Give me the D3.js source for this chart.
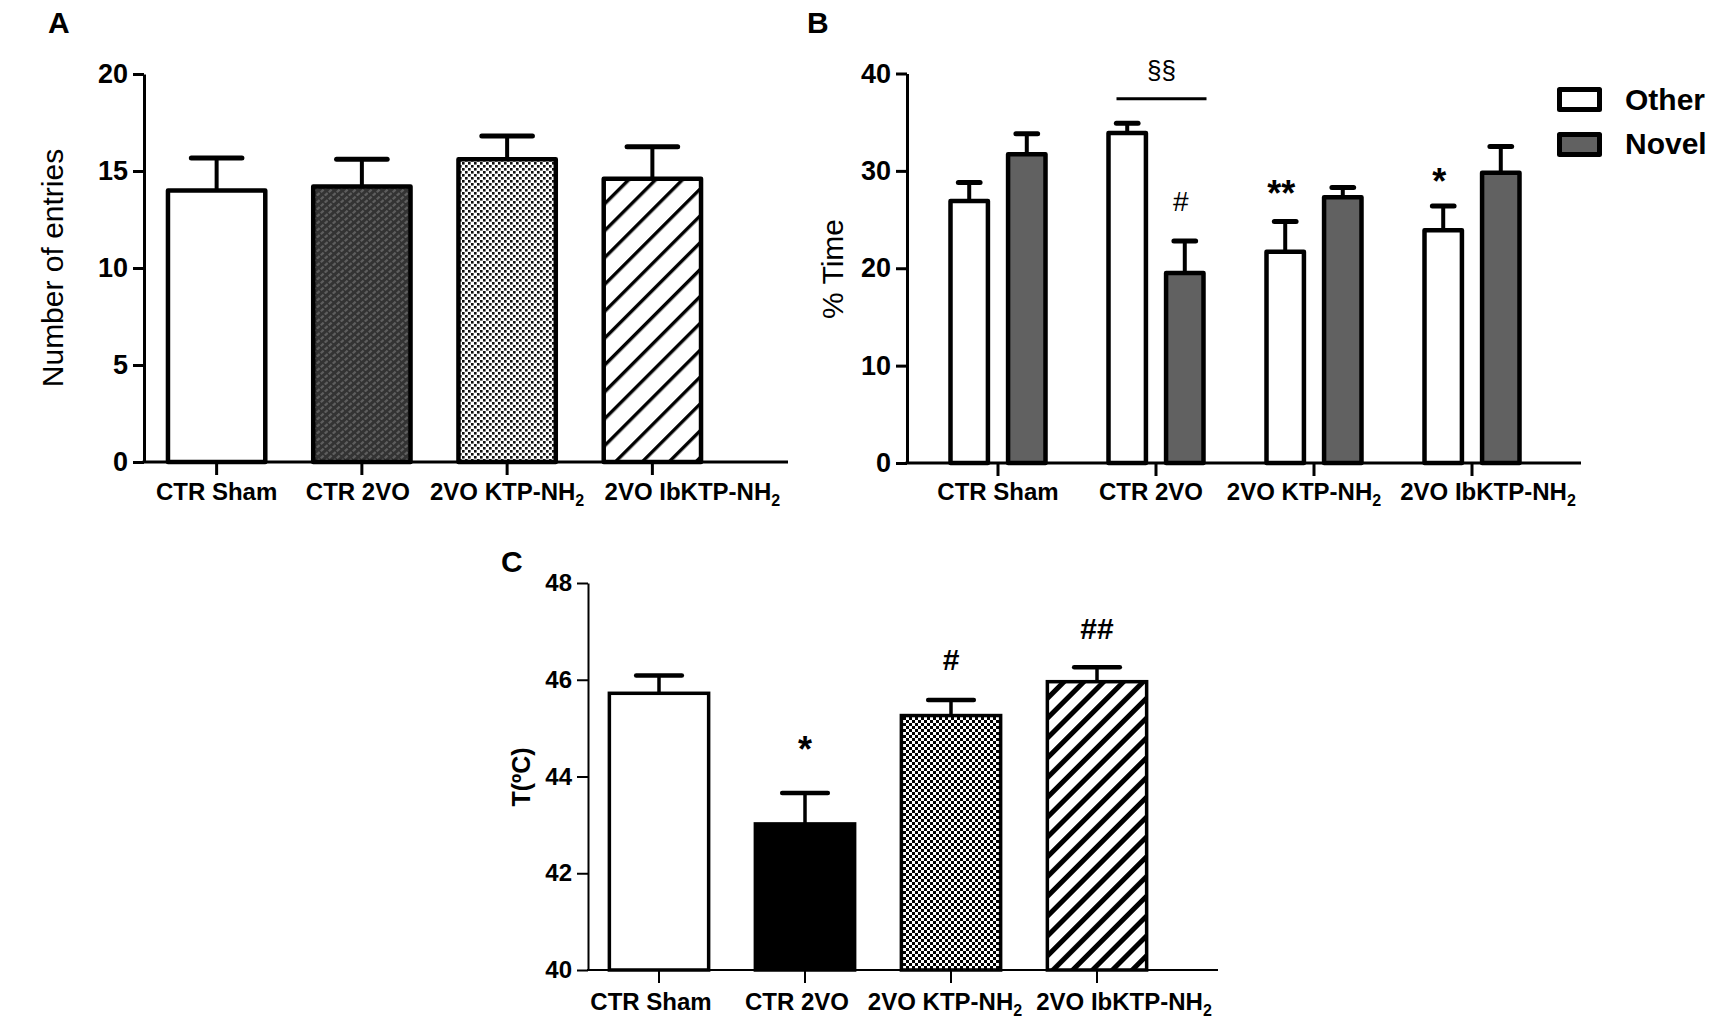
<!DOCTYPE html>
<html>
<head>
<meta charset="utf-8">
<script src="https://cdn.jsdelivr.net/npm/d3@7"></script>
<style>
  body { margin: 0; background: #fff; }
  text { font-family: "Liberation Sans", Arial, sans-serif; fill: #000; }
</style>
</head>
<body>
<svg id="fig" width="1720" height="1024"></svg>
<script>
// ---- data ----
var groups = ['CTR Sham', 'CTR 2VO', '2VO KTP-NH2', '2VO IbKTP-NH2'];

// A: number of entries
var entriesMean = [14.0, 14.2, 15.6, 14.6];
var entriesSem  = [1.67, 1.4, 1.2, 1.65];
var entriesTicks = [0, 5, 10, 15, 20];

// B: % time on each object
var objects = ['Other', 'Novel'];
var otherTime = [26.9, 33.9, 21.7, 23.9];
var otherSem  = [1.9, 1.0, 3.1, 2.5];
var novelTime = [31.7, 19.5, 27.3, 29.8];
var novelSem  = [2.1, 3.3, 1.0, 2.7];
var timeTicks = [0, 10, 20, 30, 40];
var marksB = [
  {label: '#',  group: 'CTR 2VO',       object: 'Novel', at: 25.9},
  {label: '**', group: '2VO KTP-NH2',   object: 'Other', at: 26.4},
  {label: '*',  group: '2VO IbKTP-NH2', object: 'Other', at: 27.6}
];
var bracketB = {label: '§§', group: 'CTR 2VO', at: 37.4, textAt: 39.4};

// C: temperature
var tempMean = [45.72, 43.02, 45.26, 45.96];
var tempSem  = [0.37, 0.64, 0.32, 0.30];
var tempTicks = [40, 42, 44, 46, 48];
var marksC = [
  {label: '*',  group: 'CTR 2VO',       at: 44.3},
  {label: '#',  group: '2VO KTP-NH2',   at: 46.2},
  {label: '##', group: '2VO IbKTP-NH2', at: 46.85}
];

var svg = d3.select('#fig');
var defs = svg.append('defs');

// ---- fill patterns ----
function pattern(id, w, h, rot) {
  var p = defs.append('pattern').attr('id', id)
    .attr('patternUnits', 'userSpaceOnUse')
    .attr('width', w).attr('height', h);
  if (rot) p.attr('patternTransform', 'rotate(' + rot + ')');
  return p;
}

var weave = pattern('weave', 8, 7);
weave.append('rect').attr('width', 8).attr('height', 7).attr('fill', '#333');
weave.append('path').attr('d', 'M0.8,3.2L3.6,0.6M4.8,6.6L7.6,4')
  .attr('stroke', '#5e5e5e').attr('stroke-width', 2.2).attr('stroke-linecap', 'butt');

var checkA = pattern('checkA', 6, 6);
checkA.append('rect').attr('width', 6).attr('height', 6).attr('fill', '#fff');
checkA.append('rect').attr('width', 2.6).attr('height', 2.6).attr('fill', '#111');
checkA.append('rect').attr('x', 3).attr('y', 3).attr('width', 2.6).attr('height', 2.6).attr('fill', '#111');

var checkC = pattern('checkC', 6, 6);
checkC.append('rect').attr('width', 6).attr('height', 6).attr('fill', '#fff');
checkC.append('rect').attr('width', 3).attr('height', 3).attr('fill', '#000');
checkC.append('rect').attr('x', 3).attr('y', 3).attr('width', 3).attr('height', 3).attr('fill', '#000');

var stripeA = pattern('stripeA', 19, 19, 45);
stripeA.append('rect').attr('width', 19).attr('height', 19).attr('fill', '#fff');
stripeA.append('rect').attr('width', 3.4).attr('height', 19).attr('fill', '#000');

var stripeC = pattern('stripeC', 14, 14, 45);
stripeC.append('rect').attr('width', 14).attr('height', 14).attr('fill', '#fff');
stripeC.append('rect').attr('width', 5).attr('height', 14).attr('fill', '#000');

// ---- helpers ----
function addLabel(sel, name) {
  var m = name.match(/^(.*NH)2$/);
  if (m) {
    sel.text(m[1]);
    sel.append('tspan').attr('font-size', 16).attr('dy', 6).text('2');
  } else {
    sel.text(name);
  }
}

function drawYAxis(g, y, ticks, x0, fontSize, lw) {
  var ax = g.append('g')
    .attr('transform', 'translate(' + x0 + ',0)')
    .call(d3.axisLeft(y).tickValues(ticks).tickSize(11).tickPadding(5).tickSizeOuter(0));
  ax.attr('font-family', null).attr('font-size', null);
  ax.select('.domain').attr('stroke', '#000').attr('stroke-width', lw);
  ax.selectAll('.tick line').attr('stroke', '#000').attr('stroke-width', lw);
  ax.selectAll('.tick text').attr('font-size', fontSize).attr('font-weight', 'bold');
}

function drawXAxis(g, x, y0, x1, x2, lw, labelY, nudge) {
  g.append('line')
    .attr('x1', x1 - lw / 2).attr('x2', x2)
    .attr('y1', y0).attr('y2', y0)
    .attr('stroke', '#000').attr('stroke-width', lw);
  var ax = g.append('g')
    .attr('transform', 'translate(0,' + y0 + ')')
    .call(d3.axisBottom(x).tickSize(13).tickFormat('').tickSizeOuter(0));
  ax.select('.domain').remove();
  ax.selectAll('.tick line').attr('stroke', '#000').attr('stroke-width', lw);
  g.selectAll('text.xlab').data(groups).join('text')
    .attr('class', 'xlab')
    .attr('x', function (d, i) { return x(d) + x.bandwidth() / 2 + nudge[i]; })
    .attr('y', labelY)
    .attr('text-anchor', 'middle')
    .attr('font-size', 24)
    .attr('font-weight', 'bold')
    .each(function (d) { addLabel(d3.select(this), d); });
}

function errBar(g, cx, yTop, yErr, capW, lw) {
  g.append('line')
    .attr('x1', cx).attr('x2', cx).attr('y1', yTop).attr('y2', yErr)
    .attr('stroke', '#000').attr('stroke-width', lw);
  g.append('line')
    .attr('x1', cx - capW / 2).attr('x2', cx + capW / 2).attr('y1', yErr).attr('y2', yErr)
    .attr('stroke', '#000').attr('stroke-width', lw + 1).attr('stroke-linecap', 'round');
}

function yTitle(x, y, txt, size, weight) {
  svg.append('text')
    .attr('transform', 'translate(' + x + ',' + y + ') rotate(-90)')
    .attr('text-anchor', 'middle')
    .attr('font-size', size)
    .attr('font-weight', weight)
    .text(txt);
}

function panelLetter(x, y, txt) {
  svg.append('text').attr('x', x).attr('y', y)
    .attr('font-size', 30).attr('font-weight', 'bold').text(txt);
}

function isStar(label) { return label.indexOf('*') >= 0; }

// ---- panel A ----
(function () {
  var g = svg.append('g');
  var y = d3.scaleLinear().domain([0, 20]).range([462, 74]);
  var x = d3.scaleBand().domain(groups).range([144, 725]).paddingInner(0.33).paddingOuter(0.165);
  var fills = ['#fff', 'url(#weave)', 'url(#checkA)', 'url(#stripeA)'];
  var bw = x.bandwidth();

  groups.forEach(function (d, i) {
    errBar(g, x(d) + bw / 2, y(entriesMean[i]), y(entriesMean[i] + entriesSem[i]), bw * 0.52, 4);
  });
  g.selectAll('rect.bar').data(groups).join('rect')
    .attr('class', 'bar')
    .attr('x', function (d) { return x(d); })
    .attr('y', function (d, i) { return y(entriesMean[i]); })
    .attr('width', bw)
    .attr('height', function (d, i) { return y(0) - y(entriesMean[i]); })
    .attr('fill', function (d, i) { return fills[i]; })
    .attr('stroke', '#000').attr('stroke-width', 4.5).attr('stroke-linejoin', 'round');

  drawYAxis(g, y, entriesTicks, 144, 27, 3);
  drawXAxis(g, x, 462, 144, 788, 3, 500, [0, -4, 0, 40]);
  yTitle(63, 268, 'Number of entries', 30, 'normal');
  panelLetter(48, 33, 'A');
})();

// ---- panel B ----
(function () {
  var g = svg.append('g');
  var y = d3.scaleLinear().domain([0, 40]).range([463, 73.5]);
  var x0 = d3.scaleBand().domain(groups).range([919, 1551]);
  var x1 = d3.scaleBand().domain(objects).range([31.5, 126.5]).paddingInner(0.35);
  var bw = x1.bandwidth();
  var vals = {Other: otherTime, Novel: novelTime};
  var sems = {Other: otherSem, Novel: novelSem};
  var fills = {Other: '#fff', Novel: '#616161'};

  var rows = [];
  groups.forEach(function (gname, i) {
    objects.forEach(function (o) {
      rows.push({group: gname, object: o, v: vals[o][i], s: sems[o][i]});
    });
  });

  rows.forEach(function (r) {
    var cx = x0(r.group) + x1(r.object) + bw / 2;
    errBar(g, cx, y(r.v), y(r.v + r.s), bw * 0.58, 4);
  });
  g.selectAll('rect.bar').data(rows).join('rect')
    .attr('class', 'bar')
    .attr('x', function (r) { return x0(r.group) + x1(r.object); })
    .attr('y', function (r) { return y(r.v); })
    .attr('width', bw)
    .attr('height', function (r) { return y(0) - y(r.v); })
    .attr('fill', function (r) { return fills[r.object]; })
    .attr('stroke', '#000').attr('stroke-width', 4.5).attr('stroke-linejoin', 'round');

  drawYAxis(g, y, timeTicks, 907, 27, 3);
  drawXAxis(g, x0, 463, 907, 1581, 3, 500, [0, -5, -10, 16]);

  // significance marks
  marksB.forEach(function (m) {
    g.append('text')
      .attr('x', x0(m.group) + x1(m.object) + bw / 2 - 4)
      .attr('y', y(m.at))
      .attr('text-anchor', 'middle')
      .attr('font-size', isStar(m.label) ? 36 : 28)
      .attr('font-weight', isStar(m.label) ? 'bold' : 'normal')
      .text(m.label);
  });
  var bx1 = x0(bracketB.group) + x1('Other') + 8;
  var bx2 = x0(bracketB.group) + x1('Novel') + bw + 3;
  g.append('line')
    .attr('x1', bx1).attr('x2', bx2)
    .attr('y1', y(bracketB.at)).attr('y2', y(bracketB.at))
    .attr('stroke', '#000').attr('stroke-width', 3);
  g.append('text')
    .attr('x', (bx1 + bx2) / 2).attr('y', y(bracketB.textAt))
    .attr('text-anchor', 'middle').attr('font-size', 26)
    .text(bracketB.label);

  // legend
  var lg = g.append('g');
  objects.forEach(function (o, i) {
    lg.append('rect')
      .attr('x', 1559.5).attr('y', 89.5 + i * 45)
      .attr('width', 40).attr('height', 20)
      .attr('fill', fills[o]).attr('stroke', '#000').attr('stroke-width', 5)
      .attr('stroke-linejoin', 'round');
    lg.append('text')
      .attr('x', 1625).attr('y', 110 + i * 44)
      .attr('font-size', 30).attr('font-weight', 'bold')
      .text(o);
  });

  yTitle(843, 269, '% Time', 30, 'normal');
  panelLetter(807, 33, 'B');
})();

// ---- panel C ----
(function () {
  var g = svg.append('g');
  var y = d3.scaleLinear().domain([40, 48]).range([970, 583]);
  var x = d3.scaleBand().domain(groups).range([586, 1170]).paddingInner(0.32).paddingOuter(0.16);
  var fills = ['#fff', '#000', 'url(#checkC)', 'url(#stripeC)'];
  var bw = x.bandwidth();

  groups.forEach(function (d, i) {
    errBar(g, x(d) + bw / 2, y(tempMean[i]), y(tempMean[i] + tempSem[i]), bw * 0.46, 3.5);
  });
  g.selectAll('rect.bar').data(groups).join('rect')
    .attr('class', 'bar')
    .attr('x', function (d) { return x(d); })
    .attr('y', function (d, i) { return y(tempMean[i]); })
    .attr('width', bw)
    .attr('height', function (d, i) { return y(40) - y(tempMean[i]); })
    .attr('fill', function (d, i) { return fills[i]; })
    .attr('stroke', '#000').attr('stroke-width', 3.5).attr('stroke-linejoin', 'miter');

  drawYAxis(g, y, tempTicks, 588, 24, 2);
  drawXAxis(g, x, 970, 588, 1218, 2, 1010, [-8, -8, -6, 27]);

  marksC.forEach(function (m) {
    g.append('text')
      .attr('x', x(m.group) + bw / 2)
      .attr('y', y(m.at))
      .attr('text-anchor', 'middle')
      .attr('font-size', isStar(m.label) ? 36 : 30)
      .attr('font-weight', 'bold')
      .text(m.label);
  });

  yTitle(530, 777, 'T(ºC)', 25, 'bold');
  panelLetter(501, 572, 'C');
})();
</script>
</body>
</html>
